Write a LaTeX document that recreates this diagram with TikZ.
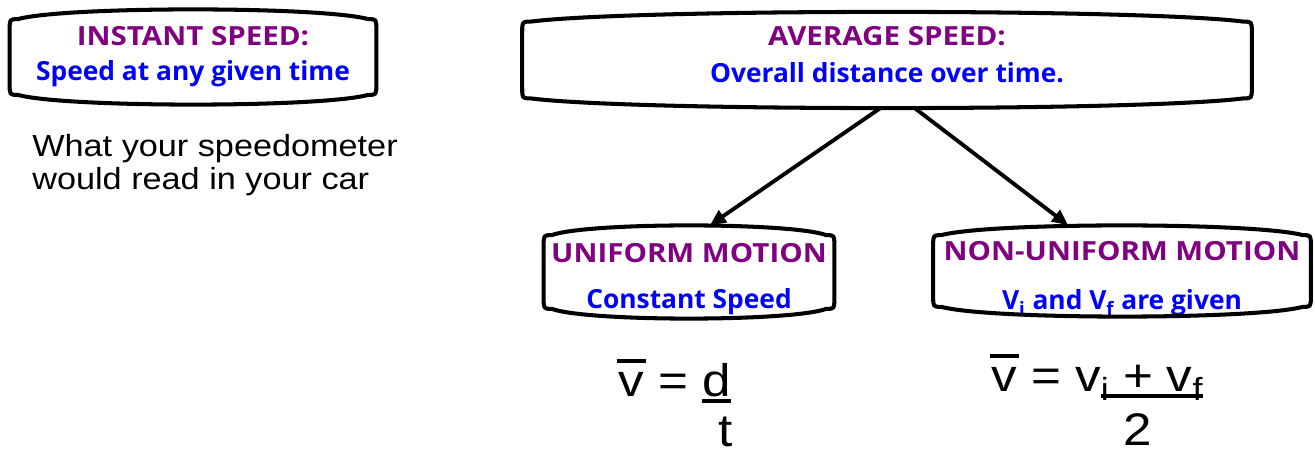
\documentclass[tikz,border=0pt]{standalone}
\usepackage{fontspec}
\setmainfont{Liberation Sans}[FakeStretch=1.12]
\newfontfamily\boxfont{Open Sans}
\newfontfamily\headfont{Open Sans}[FakeStretch=1.12]
\usetikzlibrary{positioning, arrows.meta, calc}
\definecolor{headpurple}{RGB}{128,0,128}
\definecolor{subblue}{RGB}{0,0,255}
\newcommand{\vbar}{\makebox[0pt][l]{\hspace{-0.04em}\rule[0.74em]{0.64em}{0.09em}}v}
\newcommand{\fracline}[1]{\setbox0\hbox{#1}\rlap{\rule[-0.14em]{\wd0}{0.1em}}\box0}
\newcommand{\headtext}[1]{{\headfont\fontsize{15}{20}\selectfont\color{headpurple}#1}}
\newcommand{\subtext}[1]{{\color{subblue}#1}}
\newcommand{\lift}[1]{\rule{0pt}{#1}}
\newcommand{\drop}[1]{\rule[-#1]{0pt}{#1}}

\begin{document}
\begin{tikzpicture}[
  x=0.02cm, y=-0.02cm,
  % estilos de cajas
  bubble/.style={inner sep=0pt, align=center, font=\boxfont\bfseries\fontsize{15}{20}\selectfont},
  outline/.style={line width=2.3pt, line join=round},
  % estilos de flechas y texto
  line/.style={draw, -{Triangle[length=9pt, width=8pt]}, line width=2.2pt},
  eq/.style={inner sep=0pt, font=\fontsize{26}{30}\selectfont}
]
  \useasboundingbox (0,0) rectangle (1315,455);

  % ==========================================
  % INSTANT SPEED
  % ==========================================
  \node[bubble, minimum width=7.32cm, minimum height=1.9cm] (instant) at (193,57)
    {\headtext{INSTANT SPEED:}\\\subtext{Speed at any given time}};

  \node[anchor=base west, align=left, inner sep=0pt, font=\fontsize{17.4}{18.8}\selectfont] (speedo) at (32,190)
    {What your speedometer\\would read in your car};

  % ==========================================
  % AVERAGE SPEED
  % ==========================================
  \node[bubble, minimum width=14.58cm, minimum height=1.92cm] (average) at (887,60)
    {\headtext{AVERAGE SPEED:}\\[1pt]\subtext{Overall distance over time.\drop{6pt}}};

  \node[bubble, minimum width=5.8cm, minimum height=1.86cm] (uniform) at (689,272)
    {\headtext{\lift{19pt}UNIFORM MOTION}\\[6pt]\subtext{Constant Speed}};
  \node[bubble, minimum width=7.54cm, minimum height=1.82cm] (nonuniform) at (1122,271)
    {\headtext{\lift{20pt}NON-UNIFORM MOTION}\\[8pt]\subtext{V\textsubscript{i} and V\textsubscript{f} are given}};

  % contornos
  \foreach \n in {instant, average, uniform, nonuniform} {
    \draw[outline]
      ($(\n.north west)+(0,20)$) -- ($(\n.south west)+(0,-20)$)
      .. controls ($(\n.south west)+(0,-10)$) .. ($(\n.south west)+(8,-10)$)
      .. controls ($(\n.south west)!0.15!(\n.south east)+(0,3)$) and ($(\n.south west)!0.85!(\n.south east)+(0,3)$) .. ($(\n.south east)+(-8,-10)$)
      .. controls ($(\n.south east)+(0,-10)$) .. ($(\n.south east)+(0,-20)$)
      -- ($(\n.north east)+(0,20)$)
      .. controls ($(\n.north east)+(0,10)$) .. ($(\n.north east)+(-8,10)$)
      .. controls ($(\n.north west)!0.85!(\n.north east)+(0,-3)$) and ($(\n.north west)!0.15!(\n.north east)+(0,-3)$) .. ($(\n.north west)+(8,10)$)
      .. controls ($(\n.north west)+(0,10)$) .. ($(\n.north west)+(0,20)$) -- cycle;
  }

  % flechas
  \draw[line] ($(average.south)+(-7,0)$) -- ($(uniform.north)+(21,0)$);
  \draw[line] ($(average.south)+(28,0)$) -- ($(nonuniform.north)+(-54,0)$);

  % ==========================================
  % FORMULAS
  % ==========================================
  \node[eq, anchor=base west] (uniformeq) at (618,397) {\vbar{} = \fracline{d}};
  \node[eq, anchor=base] (uniformden) at (726,447) {t};

  \node[eq, anchor=base west] (nonuniformeq) at (991,392)
    {\vbar{} = v\fracline{\textsubscript{i}\hspace{0.3em}+\hspace{0.3em}v\textsubscript{f}}};
  \node[eq, anchor=base] (nonuniformden) at (1138,446) {2};

\end{tikzpicture}
\end{document}
